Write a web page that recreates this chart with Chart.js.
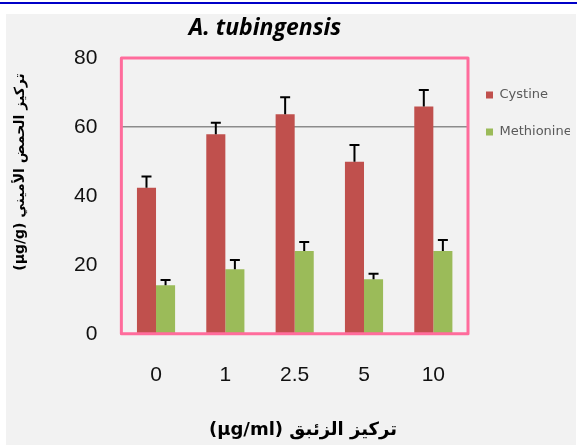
<!DOCTYPE html>
<html>
<head>
<meta charset="utf-8">
<script src="https://cdn.jsdelivr.net/npm/chart.js@4"></script>
<style>
  body { margin: 0; background: #fff; }
  #topline { position: absolute; left: 0; top: 2px; width: 577px; height: 2px; background: #0000c8; }
  #wrap { position: absolute; left: 6px; top: 14px; width: 570px; height: 431px; background: #f2f2f2; }
</style>
</head>
<body>
<div id="topline"></div>
<div id="wrap"><canvas id="chart" width="570" height="431"></canvas></div>
<script>
const categories = ["0", "1", "2.5", "5", "10"];
const cystine = [42.4, 57.9, 63.7, 49.9, 65.9];
const cystineErr = [3.2, 3.3, 4.9, 4.9, 4.8];
const methionine = [14.1, 18.7, 24.0, 15.8, 24.0];
const methionineErr = [1.5, 2.7, 2.6, 1.6, 3.2];
const yTicks = [0, 20, 40, 60, 80];

const titleText = "A. tubingensis";
const xTitle = "(µg/ml) تركيز الزئبق";
const yTitle = "(µg/g) تركيز الحمض الأميني";

// error bars (upper only) drawn from the dataset values
const errorBars = {
  id: "errorBars",
  afterDatasetsDraw(chart) {
    const ctx = chart.ctx;
    const y = chart.scales.y;
    [cystineErr, methionineErr].forEach((errs, di) => {
      const meta = chart.getDatasetMeta(di);
      meta.data.forEach((bar, i) => {
        const v = chart.data.datasets[di].data[i];
        const top = y.getPixelForValue(v + errs[i]);
        ctx.save();
        ctx.strokeStyle = "#000";
        ctx.lineWidth = 2;
        ctx.beginPath();
        ctx.moveTo(bar.x, bar.y);
        ctx.lineTo(bar.x, top);
        ctx.moveTo(bar.x - 5, top);
        ctx.lineTo(bar.x + 5, top);
        ctx.stroke();
        ctx.restore();
      });
    });
  }
};

// legend sits a little closer to the plot than its item padding
const legendShift = {
  id: "legendShift",
  afterLayout(chart) {
    chart.legend.left -= 6;
    chart.legend.right -= 6;
  }
};

// pink plot frame, chart title and axis titles
const frame = {
  id: "frame",
  afterDraw(chart) {
    const { ctx, chartArea: a } = chart;
    ctx.save();
    ctx.strokeStyle = "#ff6c9c";
    ctx.lineWidth = 3;
    ctx.lineJoin = "round";
    ctx.strokeRect(a.left, a.top, a.right - a.left, a.bottom - a.top);

    ctx.fillStyle = "#000";
    ctx.textAlign = "center";
    ctx.textBaseline = "middle";
    ctx.font = "italic bold 23px 'Open Sans'";
    ctx.fillText(titleText, 259, 14);

    ctx.font = "bold 18px 'DejaVu Sans'";
    ctx.fillText(xTitle, 297, 416);

    ctx.translate(14, 158);
    ctx.rotate(-Math.PI / 2);
    ctx.font = "bold 14px 'DejaVu Sans'";
    ctx.fillText(yTitle, 0, 0);
    ctx.restore();
  }
};

new Chart(document.getElementById("chart"), {
  type: "bar",
  data: {
    labels: categories,
    datasets: [
      { label: "Cystine", data: cystine, backgroundColor: "#c0504d" },
      { label: "Methionine", data: methionine, backgroundColor: "#9bbb59" }
    ]
  },
  options: {
    responsive: false,
    animation: false,
    layout: { padding: { left: 44, top: 44, bottom: 36, right: 0 } },
    datasets: { bar: { categoryPercentage: 0.55, barPercentage: 1.0 } },
    scales: {
      x: {
        grid: { display: false },
        border: { display: false },
        ticks: { color: "#111", font: { size: 21, family: "'Liberation Sans'" }, padding: 21 }
      },
      y: {
        min: 0, max: 80,
        afterBuildTicks: s => { s.ticks = yTicks.map(v => ({ value: v })); },
        grid: {
          drawTicks: false,
          color: c => c.tick && c.tick.value === 60 ? "#8c8c8c" : "rgba(0,0,0,0)",
          lineWidth: 1.5
        },
        border: { display: false },
        ticks: { color: "#111", font: { size: 21, family: "'Liberation Sans'" }, padding: 24 }
      }
    },
    plugins: {
      title: { display: false },
      legend: {
        position: "right", align: "start", maxWidth: 108,
        title: { display: true, text: " ", font: { size: 1, lineHeight: "1px" }, padding: { top: 5.5, bottom: 0 } },
        labels: {
          boxWidth: 7, boxHeight: 7, color: "#595959", padding: 24,
          font: { size: 13, family: "'DejaVu Sans'" }
        }
      },
      tooltip: { enabled: false }
    }
  },
  plugins: [errorBars, legendShift, frame]
});
</script>
</body>
</html>
